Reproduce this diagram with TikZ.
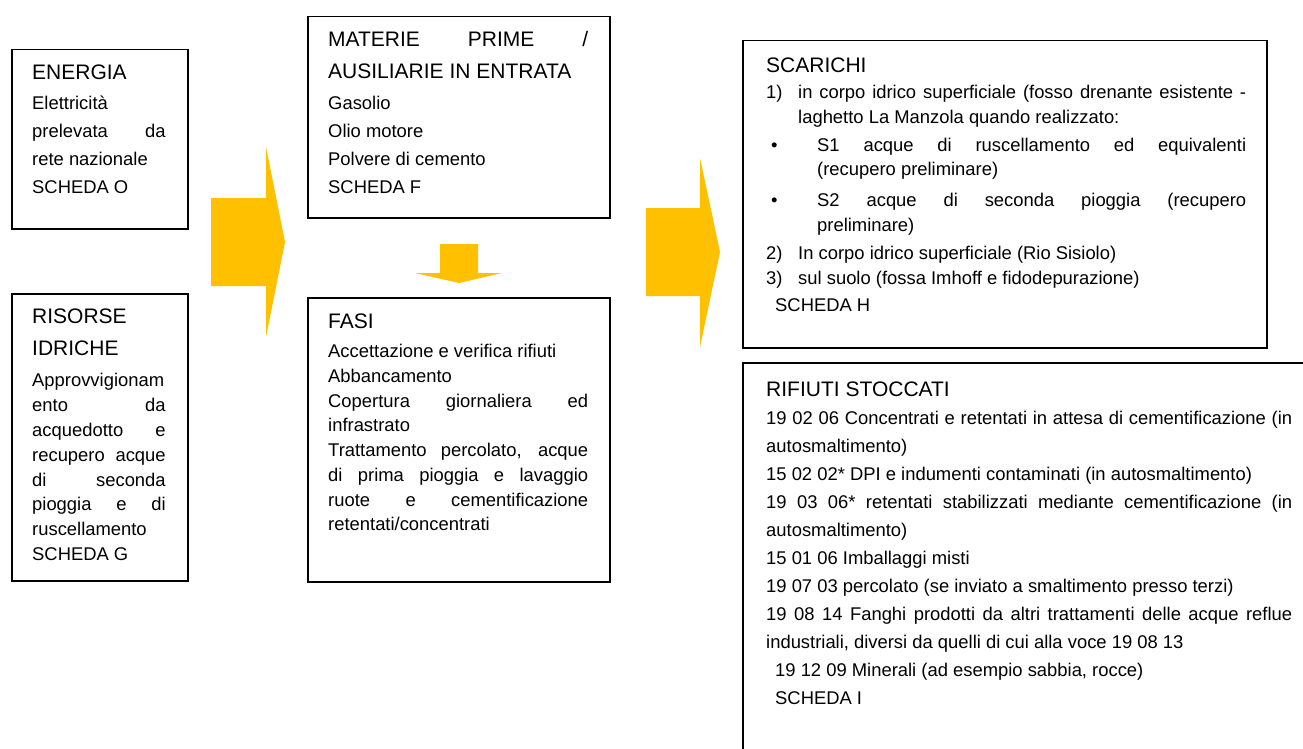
\documentclass[tikz,border=0pt]{standalone}
\usepackage{fontspec}
\setmainfont{Liberation Sans}
\definecolor{arrowgold}{RGB}{255,192,0}
\begin{document}
\begin{tikzpicture}[x=1pt,y=-1pt,
  box/.style={draw=black, line width=1.5pt, inner sep=0pt, anchor=north west},
  ttl/.style={anchor=base west, inner sep=0pt, font=\fontsize{21}{25}\selectfont},
  txt/.style={anchor=base west, inner sep=0pt, font=\fontsize{18.4}{22}\selectfont},
  blockarrow/.style={fill=arrowgold, draw=none}]
\useasboundingbox (0,0) rectangle (1303,749);
\fill[white] (0,0) rectangle (1303,749);
\clip (0,0) rectangle (1303,749);

% boxes
\node[box, minimum width=176pt, minimum height=179pt] (energia) at (11,49) {};
\node[box, minimum width=176pt, minimum height=287pt] (risorse) at (11,293) {};
\node[box, minimum width=302pt, minimum height=201pt] (materie) at (307,16) {};
\node[box, minimum width=302pt, minimum height=284pt] (fasi) at (307,297) {};
\node[box, minimum width=524pt, minimum height=307pt] (scarichi) at (742,40) {};
\node[box, minimum width=620pt, minimum height=430pt] (rifiuti) at (742,362) {};

% block arrows
\fill[blockarrow] (211,198) -- (266,198) -- (266,147) -- (285,242) -- (266,337) -- (266,286) -- (211,286) -- cycle;
\fill[blockarrow] (440,244) -- (478,244) -- (478,273) -- (502,273) -- (459,283) -- (415,273) -- (440,273) -- cycle;
\fill[blockarrow] (646,208) -- (700,208) -- (700,158) -- (720,252) -- (700,347) -- (700,296) -- (646,296) -- cycle;

% ENERGIA
\node[ttl] (e0) at (32,79.5) {ENERGIA};
\node[txt] (e1) at (32,109.5) {Elettricità};
\node[txt] (e2) at (32,137.5) {\makebox[133.5pt][s]{prelevata da}};
\node[txt] (e3) at (32,165) {rete nazionale};
\node[txt] (e4) at (32,193) {SCHEDA O};

% RISORSE IDRICHE
\node[ttl] (r0) at (32,323.5) {RISORSE};
\node[ttl] (r1) at (32,355.5) {IDRICHE};
\node[txt] (r2) at (32,386.5) {Approvvigionam};
\node[txt] (r3) at (32,411) {\makebox[133.5pt][s]{ento da}};
\node[txt] (r4) at (32,436) {\makebox[133.5pt][s]{acquedotto e}};
\node[txt] (r5) at (32,461) {\makebox[133.5pt][s]{recupero acque}};
\node[txt] (r6) at (32,486) {\makebox[133.5pt][s]{di seconda}};
\node[txt] (r7) at (32,510) {\makebox[133.5pt][s]{pioggia e di}};
\node[txt] (r8) at (32,535) {ruscellamento};
\node[txt] (r9) at (32,560) {SCHEDA G};

% MATERIE PRIME
\node[ttl] (m0) at (328,46.5) {\makebox[260pt][s]{MATERIE PRIME /}};
\node[ttl] (m1) at (328,78.5) {AUSILIARIE IN ENTRATA};
\node[txt] (m2) at (328,109.5) {Gasolio};
\node[txt] (m3) at (328,137.5) {Olio motore};
\node[txt] (m4) at (328,165.5) {Polvere di cemento};
\node[txt] (m5) at (328,193) {SCHEDA F};

% FASI
\node[ttl] (f0) at (328,328.5) {FASI};
\node[txt] (f1) at (328,357.5) {Accettazione e verifica rifiuti};
\node[txt] (f2) at (328,382.5) {Abbancamento};
\node[txt] (f3) at (328,407) {\makebox[260pt][s]{Copertura giornaliera ed}};
\node[txt] (f4) at (328,431.5) {infrastrato};
\node[txt] (f5) at (328,456.5) {\makebox[260pt][s]{Trattamento percolato, acque}};
\node[txt] (f6) at (328,481) {\makebox[260pt][s]{di prima pioggia e lavaggio}};
\node[txt] (f7) at (328,506) {\makebox[260pt][s]{ruote e cementificazione}};
\node[txt] (f8) at (328,530.5) {retentati/concentrati};

% SCARICHI
\node[ttl] (s0) at (766,72.5) {SCARICHI};
\node[txt] (s1n) at (766,98.5) {1)};
\node[txt] (s1) at (798,98.5) {\makebox[448pt][s]{in corpo idrico superficiale (fosso drenante esistente -}};
\node[txt] (s2) at (798,123.5) {laghetto La Manzola quando realizzato:};
\node[txt] (s3b) at (771,151.5) {•};
\node[txt] (s3) at (817,151.5) {\makebox[429pt][s]{S1 acque di ruscellamento ed equivalenti}};
\node[txt] (s4) at (817,175.5) {(recupero preliminare)};
\node[txt] (s5b) at (771,206.5) {•};
\node[txt] (s5) at (817,206.5) {\makebox[429pt][s]{S2 acque di seconda pioggia (recupero}};
\node[txt] (s6) at (817,231.5) {preliminare)};
\node[txt] (s7n) at (766,259.5) {2)};
\node[txt] (s7) at (798,259.5) {In corpo idrico superficiale (Rio Sisiolo)};
\node[txt] (s8n) at (766,284.5) {3)};
\node[txt] (s8) at (798,284.5) {sul suolo (fossa Imhoff e fidodepurazione)};
\node[txt] (s9) at (775,311.5) {SCHEDA H};

% RIFIUTI STOCCATI
\node[ttl] (w0) at (766,396.5) {RIFIUTI STOCCATI};
\node[txt] (w1) at (766,424) {\makebox[526pt][s]{19 02 06 Concentrati e retentati in attesa di cementificazione (in}};
\node[txt] (w2) at (766,452) {autosmaltimento)};
\node[txt] (w3) at (766,480) {15 02 02* DPI e indumenti contaminati (in autosmaltimento)};
\node[txt] (w4) at (766,508) {\makebox[526pt][s]{19 03 06* retentati stabilizzati mediante cementificazione (in}};
\node[txt] (w5) at (766,536) {autosmaltimento)};
\node[txt] (w6) at (766,564) {15 01 06 Imballaggi misti};
\node[txt] (w7) at (766,592) {19 07 03 percolato (se inviato a smaltimento presso terzi)};
\node[txt] (w8) at (766,620) {\makebox[526pt][s]{19 08 14 Fanghi prodotti da altri trattamenti delle acque reflue}};
\node[txt] (w9) at (766,648) {industriali, diversi da quelli di cui alla voce 19 08 13};
\node[txt] (w10) at (775,676) {19 12 09 Minerali (ad esempio sabbia, rocce)};
\node[txt] (w11) at (775,704) {SCHEDA I};
\end{tikzpicture}
\end{document}
